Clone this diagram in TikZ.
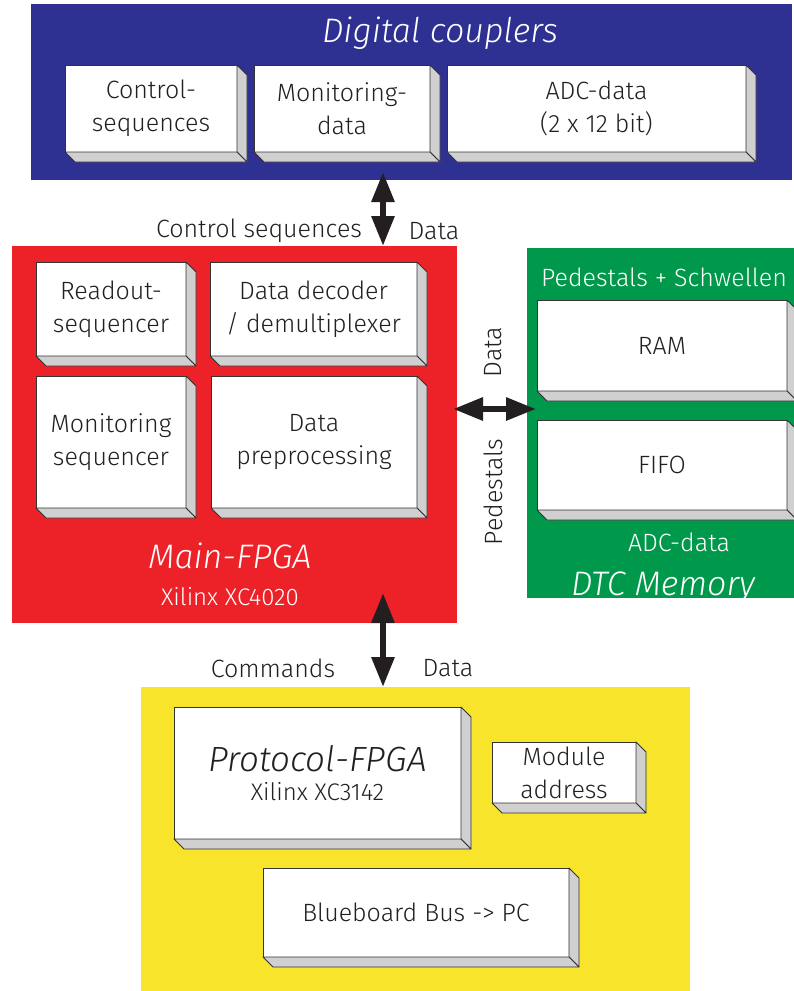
\documentclass[tikz,border=0pt]{standalone}
\usepackage{fontspec}
\setmainfont{Fira Sans Light}[ItalicFont={Fira Sans Light Italic}]
\usetikzlibrary{arrows.meta,calc}
\definecolor{cblue}{HTML}{2E3192}
\definecolor{cred}{HTML}{ED2229}
\definecolor{cgreen}{HTML}{00984A}
\definecolor{cyellow}{HTML}{F7E42B}
\definecolor{sidegray}{HTML}{D0D0D0}
\definecolor{boxline}{HTML}{333333}
\definecolor{arrowc}{HTML}{231F20}
\definecolor{txt}{HTML}{231F20}
\tikzset{
  panel/.style={anchor=north west, inner sep=0pt, outer sep=0pt, draw=none},
  box/.style={anchor=north west, fill=white, draw=boxline, line width=0.8pt, inner sep=0pt, outer sep=0pt, align=center, text=txt, font=\fontsize{25}{33}\selectfont},
  side/.style={fill=sidegray, draw=boxline, line width=0.8pt, line join=round},
  lbl/.style={inner sep=0pt, text=txt, font=\fontsize{25}{28}\selectfont},
  wlbl/.style={inner sep=0pt, text=white, font=\fontsize{25}{28}\selectfont},
  ttl/.style={inner sep=0pt, text=white, font=\fontsize{34}{38}\selectfont\itshape},
  bigarrow/.style={draw=arrowc, fill=arrowc, line width=6pt, arrows={Triangle[length=30pt,width=22pt]-Triangle[length=30pt,width=22pt]}}
}
\newcommand\extr[1]{%
  \filldraw[side] (#1.north east) -- ++(10,10) -- ($(#1.south east)+(10pt,-10pt)$) -- (#1.south east) -- cycle;
  \filldraw[side] (#1.south west) -- ++(10,10) -- ($(#1.south east)+(10pt,-10pt)$) -- (#1.south east) -- cycle;}
\newcommand\tbox[6]{%
  \node[box, minimum width=#4-#2, minimum height=#5-#3] (#1) at (#2,#3) {#6};
  \extr{#1}}
\begin{document}
\begin{tikzpicture}[x=1pt,y=-1pt]
\clip (0,0) rectangle (794,991);
\fill[white] (0,0) rectangle (794,991);
% panels
\node[panel, fill=cblue, minimum width=761, minimum height=176] (blue) at (31,4) {};
\node[panel, fill=cred, minimum width=445, minimum height=377] (red) at (12,246) {};
\node[panel, fill=cgreen, minimum width=280, minimum height=350] (green) at (527,248) {};
\node[panel, fill=cyellow, minimum width=549, minimum height=310] (yellow) at (141,687) {};
% blue
\node[ttl] (dctitle) at (440,33) {Digital couplers};
\tbox{ctrl}{65}{65}{237}{152}{Control-\\sequences}
\tbox{mon}{254}{65}{430}{152}{Monitoring-\\data}
\tbox{adc}{447}{65}{746}{152}{ADC-data\\(2 x 12 bit)}
% red
\tbox{readout}{36}{262}{186}{356}{Readout-\\sequencer}
\tbox{decoder}{210}{262}{417}{356}{Data decoder\\/ demultiplexer}
\tbox{monseq}{36}{376}{186}{508}{Monitoring\\sequencer}
\tbox{preproc}{211}{376}{417}{508}{Data\\preprocessing}
\node[ttl] (mainfpga) at (230,556) {Main-FPGA};
\node[wlbl, font=\fontsize{24}{28}\selectfont] (xc4020) at (230,597) {Xilinx XC4020};
% green
\node[wlbl] (pedschw) at (664,277) {Pedestals + Schwellen};
\tbox{ram}{537}{300}{787}{391}{RAM}
\tbox{fifo}{537}{420}{787}{510}{FIFO}
\node[wlbl] (adcdata) at (679,542) {ADC-data};
\node[ttl] (dtcmem) at (663,587) {DTC Memory};
% yellow
\tbox{proto}{174}{707}{461}{839}{{\fontsize{35}{38}\selectfont\itshape Protocol-FPGA}\\[-4pt]{\fontsize{24}{28}\selectfont Xilinx XC3142}}
\tbox{modaddr}{492}{742}{636}{803}{Module\\address}
\tbox{bus}{263}{868}{569}{957}{Blueboard Bus -> PC}
% labels
\node[lbl] (lctrl) at (259,231) {Control sequences};
\node[lbl] (ldata1) at (434,231) {Data};
\node[lbl, rotate=90] (ldata2) at (493,352) {Data};
\node[lbl, rotate=90] (lped) at (493,492) {Pedestals};
\node[lbl] (lcmd) at (273,668) {Commands};
\node[lbl] (ldata3) at (448,668) {Data};
% arrows
\coordinate (ax) at (383,0);
\coordinate (hy) at (0,409);
\draw[bigarrow, shorten <=-8pt] (blue.south -| ax) -- (red.north -| ax);
\draw[bigarrow, shorten <=-30pt] (red.south -| ax) -- (yellow.north -| ax);
\draw[bigarrow, shorten <=-4pt, shorten >=-9pt] (red.east |- hy) -- (green.west |- hy);
\end{tikzpicture}
\end{document}
